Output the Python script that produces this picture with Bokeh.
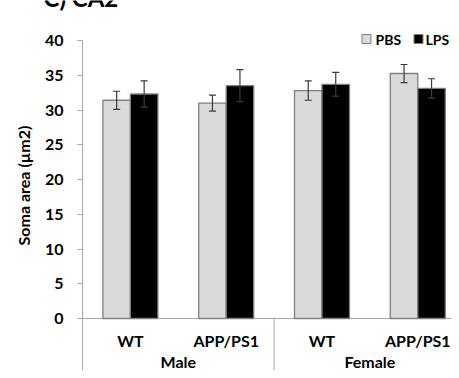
from bokeh.plotting import figure
from bokeh.models import Range1d, FixedTicker
from bokeh.embed import file_html
from bokeh.resources import INLINE
from bokeh.core.properties import value

# ---------------- data ----------------
sexes = ["Male", "Female"]
genotypes = ["WT", "APP/PS1"]
series = ["PBS", "LPS"]
pbs_mean = [31.4, 31.0, 32.8, 35.25]
pbs_err = [1.3, 1.15, 1.4, 1.3]
lps_mean = [32.3, 33.5, 33.7, 33.1]
lps_err = [1.9, 2.3, 1.7, 1.4]
y_ticks = [0, 5, 10, 15, 20, 25, 30, 35, 40]
y_label = "Soma area (µm2)"
title_text = "C) CA2"

# ---------------- geometry (pixels -> data units) ----------------
W, H = 451, 370
SX = 95.8          # px per category slot
SY = 6.95          # px per y unit
X0_IMG = 82        # px where x=0
Y0_IMG = 318       # px where y=0
x_start = -X0_IMG / SX
x_end = (W - X0_IMG) / SX
y_end = Y0_IMG / SY
y_start = -(H - Y0_IMG) / SY


def ux(px_x):
    return (px_x - X0_IMG) / SX


def uy(px_y):
    return (Y0_IMG - px_y) / SY


FONT = "Lato"
AX_COL = "#a6a6a6"

p = figure(width=W, height=H, output_backend="svg", toolbar_location=None,
           title=None, x_axis_location=None,
           x_range=Range1d(x_start, x_end), y_range=Range1d(y_start, y_end),
           min_border_left=0, min_border_right=0,
           min_border_top=0, min_border_bottom=0)
p.outline_line_color = None
p.xgrid.grid_line_color = None
p.ygrid.grid_line_color = None
p.background_fill_color = "white"

# y axis (drawn at x = 0 inside the frame)
ya = p.yaxis[0]
ya.fixed_location = 0
ya.ticker = FixedTicker(ticks=y_ticks)
ya.axis_line_color = None
ya.major_tick_out = 5
ya.major_tick_in = 0
ya.minor_tick_line_color = None
ya.major_tick_line_color = AX_COL
ya.major_label_standoff = 14
ya.major_label_text_font = FONT
ya.major_label_text_font_style = "bold"
ya.major_label_text_font_size = "16px"
ya.major_label_text_color = "black"
ya.axis_label = y_label
ya.axis_label_text_font = FONT
ya.axis_label_text_font_style = "bold"
ya.axis_label_text_font_size = "16px"
ya.axis_label_text_color = "black"
ya.axis_label_standoff = 9

n = len(pbs_mean)
centers = [i + 0.5 for i in range(n)]
bw = 27.5 / SX
px = [c - bw / 2 for c in centers]
lx = [c + bw / 2 for c in centers]

# axis lines
p.segment(x0=[0], y0=[y_ticks[-1]], x1=[0], y1=[y_start], line_color=AX_COL, line_width=1)
p.segment(x0=[0], y0=[0], x1=[x_end], y1=[0], line_color=AX_COL, line_width=1)
p.segment(x0=[len(genotypes)], y0=[0], x1=[len(genotypes)], y1=[y_start],
          line_color=AX_COL, line_width=1)

# bars
p.vbar(x=px, top=pbs_mean, bottom=0, width=bw, fill_color="#d9d9d9",
       line_color="#7f7f7f", line_width=1.3)
p.vbar(x=lx, top=lps_mean, bottom=0, width=bw, fill_color="black",
       line_color="#7f7f7f", line_width=1.3)

# error bars
ERR_COL = "#3c3c3c"
for xs, m, e in ((px, pbs_mean, pbs_err), (lx, lps_mean, lps_err)):
    lo = [a - b for a, b in zip(m, e)]
    hi = [a + b for a, b in zip(m, e)]
    p.segment(x0=xs, y0=lo, x1=xs, y1=hi, line_color=ERR_COL, line_width=1.2)
    p.scatter(x=xs + xs, y=lo + hi, marker="dash", size=7,
              line_color=ERR_COL, line_width=1.2)

# category labels
cat_labels = genotypes * len(sexes)
p.text(x=centers, y=[uy(340)] * n, text=cat_labels, text_font=value(FONT),
       text_font_style="bold", text_font_size="16px", text_align="center",
       text_baseline="middle", text_color="black")
sex_x = [len(genotypes) * (i + 0.5) for i in range(len(sexes))]
p.text(x=sex_x, y=[uy(360.5)] * len(sexes), text=sexes, text_font=value(FONT),
       text_font_style="bold", text_font_size="16px", text_align="center",
       text_baseline="middle", text_color="black")

# legend
leg_y = uy(38.5)
p.scatter(x=[ux(366)], y=[leg_y], marker="square", size=9,
          fill_color="#d9d9d9", line_color="#7f7f7f", line_width=1)
p.scatter(x=[ux(418)], y=[leg_y], marker="square", size=9,
          fill_color="black", line_color="#7f7f7f", line_width=1)
p.text(x=[ux(375), ux(425)], y=[leg_y, leg_y], text=series, text_font=value(FONT),
       text_font_style="bold", text_font_size="14px", text_align="left",
       text_baseline="middle", text_color="black")

# title (its top lies above the picture, as in the original)
p.text(x=[ux(43)], y=[uy(11)], text=[title_text], text_font=value(FONT),
       text_font_style="bold", text_font_size="24px", text_align="left",
       text_baseline="bottom", text_color="black")

open("out.html", "w").write(file_html(p, INLINE))
